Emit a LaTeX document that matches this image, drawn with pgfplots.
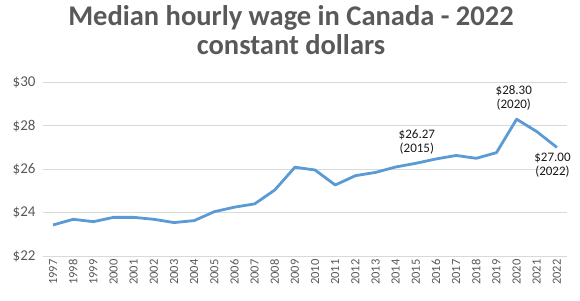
\documentclass[border=0pt]{standalone}
\usepackage{pgfplots}
\pgfplotsset{compat=1.18}
\usepackage{fontspec}
\setmainfont{Carlito}
\definecolor{txtgray}{HTML}{595959}
\definecolor{gridgray}{HTML}{D9D9D9}
\definecolor{lineblue}{HTML}{5B9BD5}
\begin{document}
\begin{tikzpicture}[x=1pt,y=1pt]
\path[use as bounding box] (0,0) rectangle (580,300);
\node[font=\fontsize{28.5}{29}\selectfont\bfseries, text=txtgray, anchor=base] at (291,274) {Median hourly wage in Canada - 2022};
\node[font=\fontsize{28.5}{29}\selectfont\bfseries, text=txtgray, anchor=base] at (291,245) {constant dollars};
\begin{axis}[
  at={(43pt,44pt)}, anchor=south west,
  scale only axis, width=524pt, height=173.7pt,
  xmin=1996.5, xmax=2022.5, ymin=22, ymax=30,
  axis line style={draw=none},
  tick style={draw=none},
  ymajorgrids, grid style={gridgray, line width=0.8pt},
  ytick={22,24,26,28,30},
  yticklabels={\$22,\$24,\$26,\$28,\$30},
  yticklabel style={font=\fontsize{15}{15}\selectfont, text=txtgray, xshift=-4pt},
  xtick={1997,...,2022},
  /pgf/number format/assume math mode=true,
  /pgf/number format/1000 sep={},
  xticklabel style={font=\fontsize{12.5}{13}\selectfont, text=txtgray, rotate=90, anchor=east},
  clip=false,
]
\addplot[lineblue, line width=2.8pt, line join=round] coordinates {
(1997,23.43) (1998,23.69) (1999,23.58) (2000,23.78) (2001,23.78) (2002,23.69)
(2003,23.54) (2004,23.63) (2005,24.04) (2006,24.25) (2007,24.40) (2008,25.04)
(2009,26.09) (2010,25.96) (2011,25.27) (2012,25.70) (2013,25.85) (2014,26.10)
(2015,26.27) (2016,26.47) (2017,26.63) (2018,26.50) (2019,26.76) (2020,28.30)
(2021,27.73) (2022,27.00)};
\node[font=\fontsize{13}{14}\selectfont, text=black!90, align=center] at (axis cs:2015.05,27.25) {\$26.27\\(2015)};
\node[font=\fontsize{13}{14}\selectfont, text=black!90, align=center] at (axis cs:2019.86,29.28) {\$28.30\\(2020)};
\node[font=\fontsize{13}{14}\selectfont, text=black!90, align=center] at (axis cs:2021.78,26.19) {\$27.00\\(2022)};
\end{axis}
\end{tikzpicture}
\end{document}
